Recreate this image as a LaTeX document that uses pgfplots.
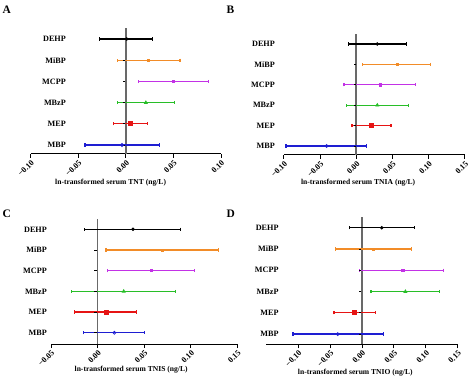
\documentclass[border=0pt]{standalone}
\usepackage{fontspec}
\setmainfont{Liberation Serif}
\usepackage{pgfplots}
\pgfplotsset{compat=1.18}
\definecolor{cOr}{RGB}{242,140,40}
\definecolor{cPu}{RGB}{195,50,230}
\definecolor{cGr}{RGB}{40,190,40}
\definecolor{cRe}{RGB}{230,20,20}
\definecolor{cBl}{RGB}{30,30,210}
\definecolor{zgray}{RGB}{105,105,105}
\newcommand{\ci}[6]{%
\addplot[#1, line width=1.3bp, mark=#2, mark options={solid, fill=#1, line width=0.8bp, #3},
  error bars/.cd, x dir=both, x explicit, error mark=|,
  error bar style={line width=1.3bp, #1}, error mark options={#1, line width=1.2bp, mark size=1.6bp}]
  table[row sep=\\, x=e, y=k, x error plus expr={\thisrow{h}-\thisrow{e}}, x error minus expr={\thisrow{e}-\thisrow{l}}]
  {k e l h\\ #4 #5 #6\\};}
\pgfplotsset{
 ciax/.style={scale only axis, axis x line*=bottom, axis y line*=left,
  y axis line style={draw=none}, x axis line style={-, line width=1bp},
  ytick={1,...,6}, yticklabels={MBP,MEP,MBzP,MCPP,MiBP,DEHP},
  ytick style={draw=none}, tick align=outside, major tick length=4bp,
  xtick style={line width=1bp, black},
  tick label style={font=\bfseries\fontsize{8.2}{9}\selectfont},
  xticklabel style={rotate=45, anchor=north east, inner sep=1bp},
  yticklabel style={anchor=east, inner sep=0pt},
  label style={font=\bfseries\fontsize{7.6}{9}\selectfont},
  clip=false},
 zl/.style={draw=zgray, line width=1.7bp, forget plot},
 zt/.style={only marks, mark=-, mark size=1.3bp, black, line width=0.9bp, forget plot}
}
\begin{document}
\begin{tikzpicture}
\useasboundingbox (0bp,0bp) rectangle (474bp,380bp);
% Panel A
\begin{axis}[ciax, at={(30.7bp,226bp)}, anchor=south west, width=190.3bp, height=126bp,
  xmin=-0.10, xmax=0.10, ymin=0.575, ymax=6.52,
  xtick={-0.10,-0.05,0,0.05,0.10}, xticklabels={−0.10,−0.05,0.00,0.05,0.10},
  yticklabel style={xshift=39.3bp},
  xlabel={ln-transformed serum TNT (ng/L)},
  xlabel style={at={(axis description cs:0.42,0)}, anchor=center, yshift=-29bp}]
\addplot[zl] coordinates {(0,0.575) (0,6.52)};
\addplot[zt] coordinates {(-0.002,1) (-0.002,2) (-0.002,3) (-0.002,4) (-0.002,5) (-0.002,6)};
\ci{black}{*}{mark size=1.3bp}{6}{0.001}{-0.028 0.028}
\ci{cOr}{square*}{mark size=1bp}{5}{0.024}{-0.009 0.057}
\ci{cPu}{square*}{mark size=1.2bp}{4}{0.050}{0.013 0.087}
\ci{cGr}{triangle*}{mark size=1.6bp}{3}{0.021}{-0.009 0.051}
\ci{cRe}{square*}{mark size=2bp}{2}{0.005}{-0.013 0.023}
\ci{cBl}{o}{mark size=1.5bp}{1}{-0.004}{-0.043 0.035}
\end{axis}
% Panel B
\begin{axis}[ciax, at={(283.9bp,225bp)}, anchor=south west, width=181bp, height=121bp,
  xmin=-0.10, xmax=0.15, ymin=0.56, ymax=6.49,
  xtick={-0.10,-0.05,0,0.05,0.10,0.15}, xticklabels={−0.10,−0.05,0.00,0.05,0.10,0.15},
  yticklabel style={xshift=-4.9bp},
  xlabel={ln-transformed serum TNIA (ng/L)},
  xlabel style={at={(axis description cs:0.41,0)}, anchor=center, yshift=-28bp}]
\addplot[zl] coordinates {(0,0.56) (0,6.49)};
\addplot[zt] coordinates {(-0.002,1) (-0.002,2) (-0.002,3) (-0.002,4) (-0.002,5) (-0.002,6)};
\ci{black}{*}{mark size=1.3bp}{6}{0.029}{-0.011 0.069}
\ci{cOr}{square*}{mark size=1bp}{5}{0.057}{0.009 0.103}
\ci{cPu}{square*}{mark size=1.2bp}{4}{0.033}{-0.017 0.082}
\ci{cGr}{triangle*}{mark size=1.6bp}{3}{0.029}{-0.014 0.072}
\ci{cRe}{square*}{mark size=2bp}{2}{0.021}{-0.006 0.048}
\ci{cBl}{o}{mark size=1.5bp}{1}{-0.041}{-0.097 0.014}
\end{axis}
% Panel C
\begin{axis}[ciax, at={(51bp,36bp)}, anchor=south west, width=186.4bp, height=125bp,
  xmin=-0.05, xmax=0.15, ymin=0.455, ymax=6.5,
  xtick={-0.05,0,0.05,0.10,0.15}, xticklabels={−0.05,0.00,0.05,0.10,0.15},
  yticklabel style={xshift=0bp},
  xlabel={ln-transformed serum TNIS (ng/L)},
  xlabel style={at={(axis description cs:0.43,0)}, anchor=center, yshift=-26bp}]
\addplot[zl] coordinates {(0,0.455) (0,6.5)};
\addplot[zt] coordinates {(-0.002,1) (-0.002,2) (-0.002,3) (-0.002,4) (-0.002,5) (-0.002,6)};
\ci{black}{*}{mark size=1.3bp}{6}{0.038}{-0.014 0.089}
\ci{cOr}{square*}{mark size=1bp}{5}{0.069}{0.009 0.130}
\ci{cPu}{square*}{mark size=1.2bp}{4}{0.058}{0.011 0.104}
\ci{cGr}{triangle*}{mark size=1.6bp}{3}{0.028}{-0.028 0.084}
\ci{cRe}{square*}{mark size=2bp}{2}{0.009}{-0.025 0.042}
\ci{cBl}{o}{mark size=1.5bp}{1}{0.018}{-0.015 0.050}
\end{axis}
% Panel D
\begin{axis}[ciax, at={(266.3bp,35.7bp)}, anchor=south west, width=191.4bp, height=127.6bp,
  xmin=-0.15, xmax=0.15, ymin=0.52, ymax=6.52,
  xtick={-0.10,-0.05,0,0.05,0.10,0.15}, xticklabels={−0.10,−0.05,0.00,0.05,0.10,0.15},
  yticklabel style={xshift=16.4bp},
  xlabel={ln-transformed serum TNIO (ng/L)},
  xlabel style={at={(axis description cs:0.465,0)}, anchor=center, yshift=-28.5bp}]
\addplot[zl] coordinates {(0,0.52) (0,6.52)};
\addplot[zt] coordinates {(-0.003,1) (-0.003,2) (-0.003,3) (-0.003,4) (-0.003,5) (-0.003,6)};
\ci{black}{*}{mark size=1.3bp}{6}{0.031}{-0.019 0.082}
\ci{cOr}{square*}{mark size=1bp}{5}{0.018}{-0.041 0.077}
\ci{cPu}{square*}{mark size=1.2bp}{4}{0.064}{-0.004 0.128}
\ci{cGr}{triangle*}{mark size=1.6bp}{3}{0.068}{0.014 0.121}
\ci{cRe}{square*}{mark size=2bp}{2}{-0.012}{-0.044 0.021}
\ci{cBl}{o}{mark size=1.5bp}{1}{-0.038}{-0.108 0.034}
\end{axis}
\node[font=\bfseries\fontsize{11.5}{12}\selectfont, anchor=north west, inner sep=0pt] at (2.5bp,374bp) {A};
\node[font=\bfseries\fontsize{11.5}{12}\selectfont, anchor=north west, inner sep=0pt] at (226.5bp,374bp) {B};
\node[font=\bfseries\fontsize{11.5}{12}\selectfont, anchor=north west, inner sep=0pt] at (2.5bp,170bp) {C};
\node[font=\bfseries\fontsize{11.5}{12}\selectfont, anchor=north west, inner sep=0pt] at (226.5bp,170bp) {D};
\end{tikzpicture}
\end{document}
